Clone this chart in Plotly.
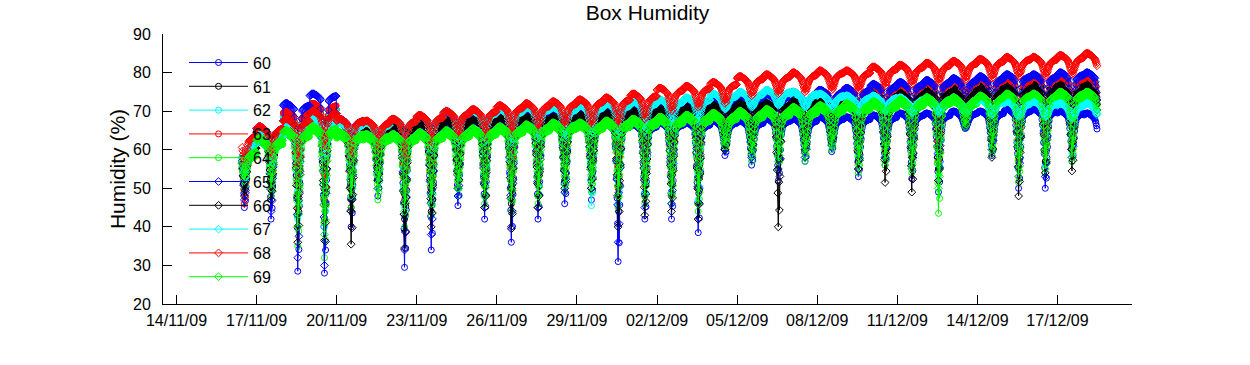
import pandas as pd
import plotly.graph_objects as go

# ---- data -----------------------------------------------------------------
# one value per day, 16/11/09 .. 18/12/09 (33 days)
names = ["60", "61", "62", "63", "64", "65", "66", "67", "68", "69"]

hi60 = [60, 64, 69, 71, 67, 65, 65.5, 66, 66, 66.5, 66.5, 66.5, 66.5, 66.5, 66.5, 66.5, 67, 67, 67.5, 67.5, 68, 68, 68.5, 68.5, 69, 69.5, 69.5, 70, 70, 70.5, 70.5, 70, 69.5]
hi61 = [62, 65.5, 69, 71, 68, 66.5, 67, 67.5, 68, 68.5, 69, 69, 69, 69.5, 70, 70.5, 71, 71.5, 72, 72.5, 73, 73.5, 74, 74.5, 75, 75.5, 76, 76.5, 77, 77, 77.5, 77.5, 77.5]
hi62 = [62, 65, 69, 71, 68, 67, 67.5, 68, 69, 69.5, 70, 70, 70, 70.5, 71, 71.5, 72, 72.5, 73, 73.5, 74, 74.5, 75, 75.5, 76.5, 77, 77.5, 78, 78.5, 79, 79, 79.5, 79.5]
hi63 = [61, 65, 70, 72, 68, 67, 68, 68.5, 69.5, 70, 70.5, 70.5, 70.5, 71, 71.5, 72, 72.5, 73, 73.5, 74, 74.5, 75, 75.5, 76, 76.5, 77, 77.5, 78, 78.5, 78.5, 79, 79, 79]
hi64 = [59, 62, 64, 65, 63.5, 63, 63, 63.5, 64, 64.5, 65, 65.5, 66, 66, 66.5, 67, 67.5, 68, 68.5, 69, 69.5, 70, 70.5, 71, 71.5, 72, 72.5, 72.5, 73, 73.5, 73.5, 74, 74]
hi65 = [62, 66, 72, 74.5, 68, 67, 67.5, 68, 69, 69.5, 70, 70, 70, 70.5, 71, 71.5, 72, 72.5, 73.5, 74, 74.5, 75, 75.5, 76, 77, 77.5, 78, 78.5, 79, 79.5, 79.5, 80, 80]
hi66 = [61, 65, 68, 70, 67, 66, 66.5, 67, 67.5, 68, 68.5, 68.5, 68.5, 69, 69.5, 70, 70.5, 71, 71.5, 72, 72, 72.5, 73, 73.5, 74, 74.5, 75, 75, 75.5, 76, 76, 76, 76]
hi67 = [62, 64, 66, 68, 67, 67, 68, 69, 70, 70, 70.5, 71, 71, 71.5, 72, 72.5, 73, 73.5, 74.5, 75, 75.5, 75, 74.5, 74, 74, 73.5, 73.5, 73.5, 73, 72.5, 72.5, 72, 72]
hi68 = [64, 66, 68, 70, 68, 67.5, 68, 69, 70, 70.5, 71.5, 72, 72.5, 73, 73.5, 74.5, 76, 76.5, 77.5, 79, 79.5, 80, 80.5, 80.5, 81.5, 82, 82.5, 83, 83.5, 84, 84, 84.5, 85]
hi69 = [60, 63, 65, 66, 64.5, 64, 64, 64.5, 65, 65.5, 66, 66.5, 67, 67, 67.5, 68, 68.5, 69, 69.5, 70, 70.5, 71, 71.5, 72, 72.5, 73, 73.5, 73.5, 74, 74.5, 74.5, 75, 75]

lo60 = [45, 42, 28.5, 28, 40, 48, 29.5, 34, 45.5, 42, 36, 42, 46, 47, 31, 42, 42, 38.5, 58.5, 56, 52, 57, 59.5, 53, 56, 52.5, 49, 65.5, 58.5, 50, 50, 57, 62]
lo61 = [50, 48, 40, 42, 45, 52, 42, 44, 50, 48, 46, 48, 52, 52, 48, 48, 48, 46, 62, 60, 58, 60, 62, 57, 58, 56, 55, 67, 61, 55, 57, 60, 66]
lo62 = [52, 50, 42, 40, 48, 54, 45, 46, 50, 48, 47, 48, 50, 45.5, 46, 49, 49, 47, 62, 60, 58, 60, 62, 58, 58, 56, 53, 67, 61, 55, 56, 59, 66]
lo63 = [46, 50, 45, 47, 50, 55, 47, 50, 54, 52, 50, 52, 55, 55, 50, 52, 52, 50, 64, 62, 60, 62, 64, 60, 60, 58, 57, 68, 63, 57, 59, 62, 68]
lo64 = [50, 48, 35, 32, 45, 47, 40, 43, 48, 46, 44, 46, 49, 49, 45, 46, 46, 44, 60, 57, 55, 57, 60, 54, 56, 54, 43.5, 66, 59, 51.5, 54, 57, 65]
lo65 = [47, 44, 32, 30, 44, 50, 34, 38, 48, 45, 40, 45, 49, 50, 36, 45, 46, 42, 60, 58, 55, 58, 61, 55, 58, 55, 52, 66, 60, 53, 53, 58, 64]
lo66 = [48, 47, 36, 36.5, 35.5, 52, 34.5, 40, 50, 45, 39.5, 45, 50, 50, 40, 43, 44, 42, 60, 60, 40, 60, 62, 55, 51.5, 49, 52, 66, 58, 48, 54, 54.5, 64]
lo67 = [52, 56, 56, 58, 58, 60, 58, 60, 62, 62, 62, 63, 63, 64, 64, 65, 66, 67, 70.5, 71, 71.5, 71, 70.5, 70, 70, 69.5, 69.5, 69.5, 69, 68.5, 68.5, 68, 68]
lo68 = [56, 58, 56, 60, 58, 60, 58, 61, 63, 63, 64, 65, 66, 66, 66, 68, 70, 71, 72, 74, 74.5, 75, 75.5, 75.5, 76.5, 77, 77.5, 78, 78.5, 79, 79, 79.5, 80]
lo69 = [52, 50, 40, 38, 48, 50, 44, 46, 50, 48, 47, 48, 51, 51, 48, 48, 48, 46, 61, 59, 57, 59, 61, 56, 57, 55, 50, 66, 60, 53, 55, 58, 66]

# intraday shape, half-hour steps from 00:00 (read from the arches / dips)
arch = [0.5, 0.35, 0.2, 0.1, 0.0, 0.0, 0.0, 0.05, 0.1, 0.2, 0.3, 0.4, 0.5, 0.6, 0.7, 0.85,
        1.0, 1.15, 1.3, 1.5, 1.7, 1.9, 2.1, 2.3, 2.5, 2.7, 2.9, 3.0, 3.0, 2.9, 2.7, 2.5,
        2.3, 2.1, 1.9, 1.7, 1.5, 1.35, 1.2, 1.1, 1.0, 0.9, 0.85, 0.8, 0.75, 0.7, 0.65, 0.6]
dip = [0, 0, 0, 0, 0, 0, 0, 0, 0, 0, 0, 0, 0, 0, 0, 0,
       0, 0, 0, 0, 0.05, 0.12, 0.22, 0.35, 0.5, 0.7, 1.0, 0.6, 0.85, 0.55, 0.4, 0.25,
       0.12, 0.05, 0, 0, 0, 0, 0, 0, 0, 0, 0, 0, 0, 0, 0, 0]

tick_dates = ["2009-11-14", "2009-11-17", "2009-11-20", "2009-11-23", "2009-11-26", "2009-11-29",
              "2009-12-02", "2009-12-05", "2009-12-08", "2009-12-11", "2009-12-14", "2009-12-17"]
tick_text = ["14/11/09", "17/11/09", "20/11/09", "23/11/09", "26/11/09", "29/11/09",
             "02/12/09", "05/12/09", "08/12/09", "11/12/09", "14/12/09", "17/12/09"]

# ---- build ------------------------------------------------------------------
his = [hi60, hi61, hi62, hi63, hi64, hi65, hi66, hi67, hi68, hi69]
los = [lo60, lo61, lo62, lo63, lo64, lo65, lo66, lo67, lo68, lo69]
colors = ["#0000ff", "#000000", "#00ffff", "#ff0000", "#00ff00",
          "#0000ff", "#000000", "#00ffff", "#ff0000", "#00ff00"]
symbols = ["circle-open"] * 5 + ["diamond-open"] * 5

start = pd.Timestamp("2009-11-16")
times = pd.date_range("2009-11-16 11:00", "2009-12-18 11:30", freq="30min")

fig = go.Figure()
for name, hi, lo, col, sym in zip(names, his, los, colors, symbols):
    ys = []
    for t in times:
        d = (t.normalize() - start).days
        k = t.hour * 2 + t.minute // 30
        top = hi[d] - arch[k]
        ys.append(top - (top - lo[d]) * dip[k])
    fig.add_trace(go.Scatter(
        x=times, y=ys, name=name, mode="lines+markers",
        line=dict(color=col, width=1),
        marker=dict(symbol=sym, size=6, color=col, line=dict(color=col, width=1)),
    ))

font_family = "Liberation Sans, Arial, sans-serif"
fig.update_layout(
    width=1250, height=365,
    margin=dict(l=163, r=118, t=34, b=61, autoexpand=False),
    paper_bgcolor="white", plot_bgcolor="white",
    font=dict(family=font_family, color="black", size=16),
    title=dict(text="Box Humidity", x=0.5, xref="paper", y=1 - 13 / 365, yref="container",
               xanchor="center", yanchor="middle", font=dict(size=21, color="black")),
    legend=dict(x=0.0217, y=0.957, xanchor="left", yanchor="top",
                bgcolor="rgba(0,0,0,0)", font=dict(size=16, color="black"),
                tracegroupgap=0, itemwidth=59),
    showlegend=True,
)
fig.update_xaxes(
    type="date", automargin=False,
    range=["2009-11-13 11:51", "2009-12-19 18:58"],
    tickvals=tick_dates, ticktext=tick_text,
    ticks="inside", ticklen=9, tickcolor="black", ticklabelstandoff=2,
    showline=True, linecolor="black", linewidth=1, mirror=False,
    showgrid=False, zeroline=False, tickfont=dict(size=16),
)
fig.update_yaxes(
    range=[20, 90], tickvals=[20, 30, 40, 50, 60, 70, 80, 90], automargin=False,
    ticks="inside", ticklen=9, tickcolor="black", ticklabelstandoff=8,
    showline=True, linecolor="black", linewidth=1, mirror=False,
    showgrid=False, zeroline=False, tickfont=dict(size=16),
    title=dict(text="Humidity (%)", font=dict(size=21), standoff=1),
)

fig.write_html("out.html", config={"displayModeBar": False},
               post_script="document.body.style.margin='0';")
